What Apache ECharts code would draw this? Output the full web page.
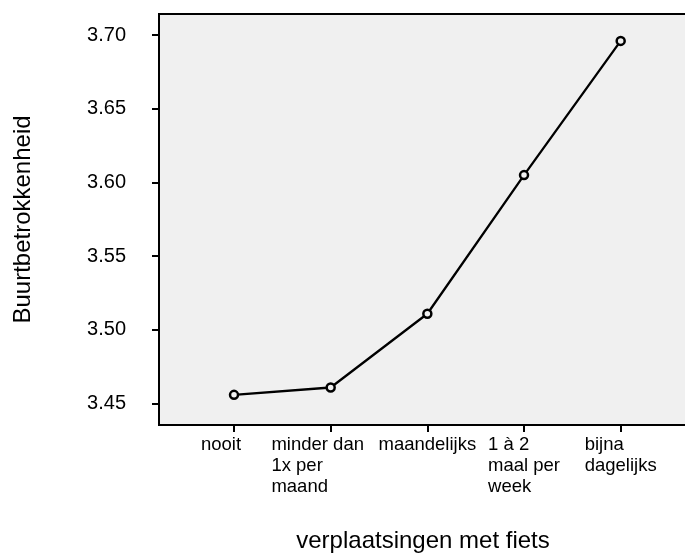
<!DOCTYPE html>
<html>
<head>
<meta charset="utf-8">
<script src="https://cdn.jsdelivr.net/npm/echarts@6/dist/echarts.min.js"></script>
<style>
  html,body{margin:0;padding:0;background:#fff;}
  #main{width:685px;height:554px;}
</style>
</head>
<body>
<div id="main"></div>
<script>
// categorieen (x-as) en gemiddelden
var categories=['nooit','minder dan\n1x per\nmaand','maandelijks','1 à 2\nmaal per\nweek','bijna\ndagelijks'];
var meanValues=[3.456,3.461,3.511,3.605,3.696];
var yTicks=[3.45,3.50,3.55,3.60,3.65,3.70];
var xTicks=[0,1,2,3,4];

var points=[];
for(var i=0;i<meanValues.length;i++){
    points.push([xTicks[i],meanValues[i]]);
}

var myChart=echarts.init(document.getElementById('main'));
var font='"Liberation Sans", Arial, sans-serif';

var option={
    animation:false,
    grid:{
        left:159,
        right:-2,
        top:14,
        bottom:129,
        outerBoundsMode:'none',
        containLabel:false,
        show:true,
        backgroundColor:'#f0f0f0',
        borderColor:'#000',
        borderWidth:2
    },
    xAxis:{
        type:'value',
        min:-0.776,
        max:4.686,
        name:'verplaatsingen met fiets',
        nameLocation:'middle',
        nameGap:104,
        nameTextStyle:{fontFamily:font,fontSize:24,color:'#000'},
        splitLine:{show:false},
        axisLine:{show:true,onZero:false,lineStyle:{color:'#000',width:2}},
        axisTick:{show:true,length:7,lineStyle:{color:'#000',width:2},customValues:xTicks},
        axisLabel:{
            customValues:xTicks,
            hideOverlap:false,
            showMinLabel:true,
            showMaxLabel:true,
            margin:9,
            fontFamily:font,
            fontSize:18.5,
            color:'#000',
            lineHeight:21,
            align:'center',
            formatter:function(v){
                var idx=Math.round(v);
                // de eerste twee labels staan iets naar links
                var st=idx<2?'b':'a';
                var lines=categories[idx].split('\n');
                return lines.map(function(l){return '{'+st+'|'+l+'}';}).join('\n');
            },
            rich:{
                a:{align:'left',fontFamily:font,fontSize:18.5,lineHeight:21,color:'#000'},
                b:{align:'left',fontFamily:font,fontSize:18.5,lineHeight:21,color:'#000',padding:[0,26,0,0]}
            }
        }
    },
    yAxis:{
        type:'value',
        min:3.43556,
        max:3.71424,
        name:'Buurtbetrokkenheid',
        nameLocation:'middle',
        nameGap:124,
        nameTextStyle:{fontFamily:font,fontSize:24,color:'#000'},
        splitLine:{show:false},
        axisLine:{show:true,onZero:false,lineStyle:{color:'#000',width:2}},
        axisTick:{show:true,length:7,lineStyle:{color:'#000',width:2},customValues:yTicks},
        axisLabel:{
            customValues:yTicks,
            showMinLabel:true,
            showMaxLabel:true,
            margin:33,
            fontFamily:font,
            fontSize:20,
            color:'#000',
            formatter:function(v){return v.toFixed(2);}
        }
    },
    series:[{
        type:'line',
        data:points,
        symbol:'circle',
        symbolSize:8,
        showAllSymbol:true,
        lineStyle:{color:'#000',width:2.3},
        itemStyle:{color:'#f0f0f0',borderColor:'#000',borderWidth:2.5}
    }]
};

myChart.setOption(option);
</script>
</body>
</html>
